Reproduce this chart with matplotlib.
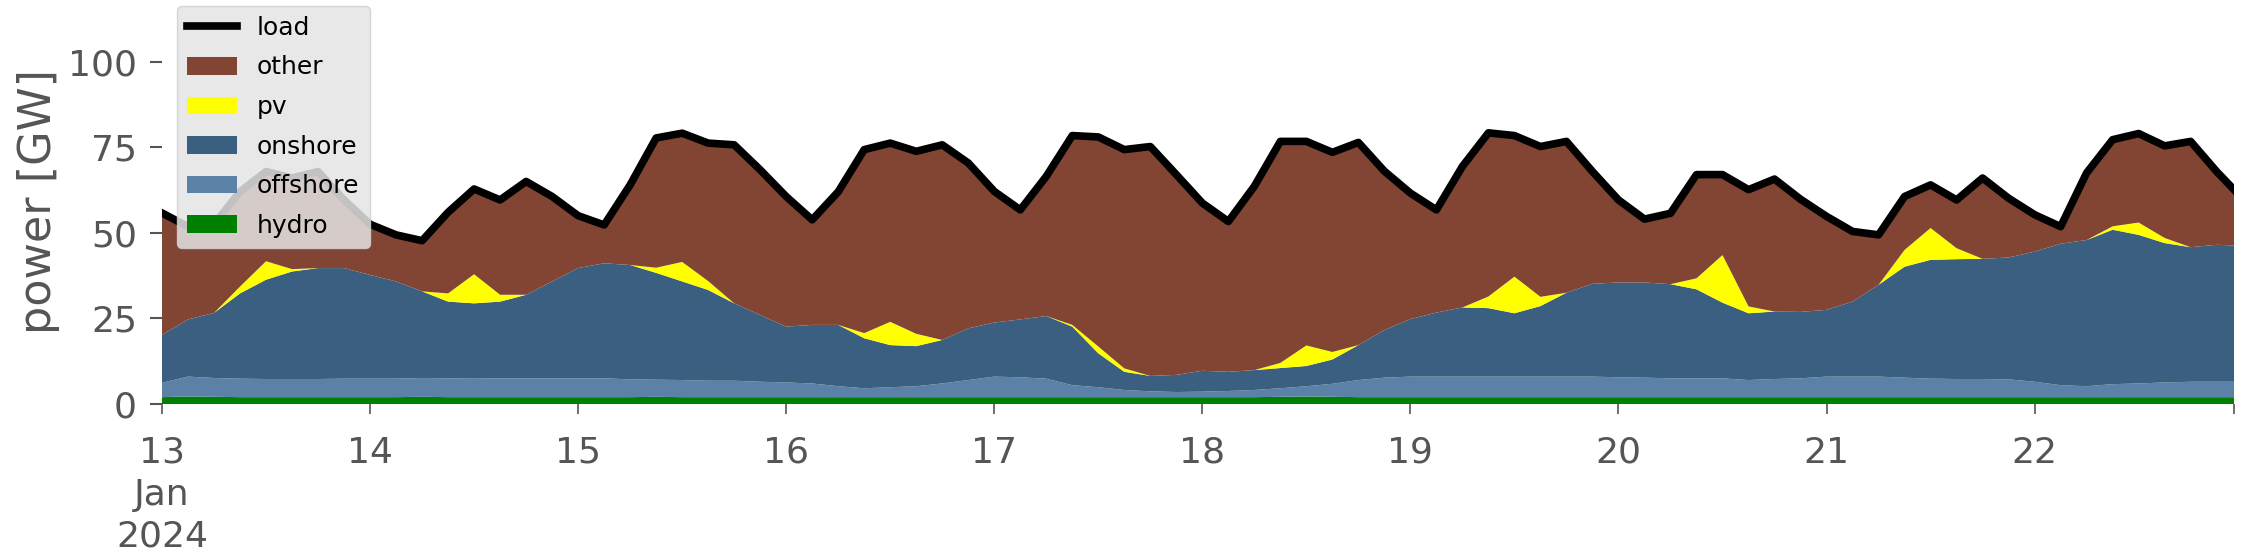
import matplotlib
matplotlib.use("Agg")
import matplotlib.pyplot as plt
import pandas as pd

WIDTH = 2241
HEIGHT = 556
DPI = 100

# readings every 3 hours from 2024-01-13 00:00, last one at 2024-01-22 23:00
HOURS = list(range(0, 240, 3)) + [239]

# GW, one row per day
LOAD = [
    55.8, 51.8, 52.5, 62.0, 67.9, 66.0, 67.9, 59.6,
    52.5, 49.4, 47.7, 56.0, 62.8, 59.6, 65.0, 60.6,
    55.0, 52.3, 64.0, 77.7, 79.1, 76.2, 75.7, 68.4,
    60.6, 53.8, 62.0, 74.3, 76.2, 73.8, 75.7, 70.4,
    62.1, 56.7, 66.5, 78.4, 78.0, 74.3, 75.2, 67.0,
    58.7, 53.3, 63.6, 76.7, 76.7, 73.5, 76.4, 68.0,
    61.6, 56.7, 69.4, 79.2, 78.4, 75.2, 76.7, 67.9,
    59.6, 54.0, 55.7, 67.0, 67.0, 62.6, 65.7, 59.8,
    54.8, 50.4, 49.4, 60.6, 64.0, 59.6, 66.0, 60.1,
    55.3, 51.8, 67.5, 77.2, 79.0, 75.4, 76.7, 67.9, 62.6,
]
HYDRO = [
    2.0, 2.2, 2.1, 2.0, 2.0, 2.0, 2.0, 2.0,
    2.0, 2.0, 2.1, 2.0, 2.0, 2.0, 2.0, 2.0,
    2.0, 2.0, 2.0, 2.1, 2.0, 2.0, 2.0, 2.0,
    2.0, 2.0, 2.0, 2.0, 2.0, 2.0, 2.0, 2.0,
    2.0, 2.0, 2.0, 2.0, 2.0, 2.0, 2.0, 2.0,
    2.0, 2.0, 2.0, 2.1, 2.2, 2.1, 2.0, 2.0,
    2.0, 2.0, 2.0, 2.0, 2.0, 2.0, 2.0, 2.0,
    2.0, 2.0, 2.0, 2.0, 2.0, 2.0, 2.0, 2.0,
    2.0, 2.0, 2.0, 2.0, 2.0, 2.0, 2.0, 2.0,
    2.0, 2.0, 2.0, 2.0, 2.0, 2.0, 2.0, 2.0, 2.0,
]
OFFSHORE = [
    4.2, 5.8, 5.5, 5.4, 5.3, 5.3, 5.3, 5.4,
    5.4, 5.4, 5.5, 5.5, 5.4, 5.5, 5.5, 5.5,
    5.5, 5.5, 5.2, 5.0, 5.0, 4.8, 4.8, 4.5,
    4.3, 4.0, 3.2, 2.6, 2.9, 3.2, 4.0, 5.0,
    6.0, 5.8, 5.4, 3.5, 2.9, 2.1, 1.7, 1.5,
    1.6, 1.8, 2.1, 2.5, 3.0, 3.8, 5.0, 5.7,
    6.0, 6.0, 6.0, 6.0, 6.0, 6.0, 6.0, 6.0,
    5.8, 5.7, 5.5, 5.5, 5.5, 5.0, 5.3, 5.5,
    6.0, 6.0, 6.0, 5.7, 5.4, 5.3, 5.3, 5.2,
    4.5, 3.5, 3.2, 3.8, 4.0, 4.3, 4.5, 4.5, 4.5,
]
ONSHORE = [
    14.0, 16.7, 19.0, 24.9, 29.0, 31.4, 32.4, 32.3,
    30.3, 28.4, 25.3, 22.4, 22.0, 22.4, 24.4, 28.3,
    32.2, 33.6, 33.4, 31.2, 28.8, 26.5, 22.6, 19.5,
    16.3, 17.1, 17.9, 14.6, 12.3, 11.7, 12.7, 15.1,
    15.8, 16.9, 18.3, 17.1, 9.9, 5.3, 4.5, 5.0,
    6.1, 5.6, 5.8, 5.9, 5.9, 7.1, 10.2, 13.9,
    16.8, 18.7, 20.2, 20.0, 18.5, 20.6, 24.5, 27.1,
    27.7, 27.8, 27.5, 26.0, 22.1, 19.5, 19.7, 19.4,
    19.5, 21.9, 26.8, 32.4, 34.7, 35.0, 35.1, 35.6,
    38.0, 41.3, 42.7, 45.1, 43.4, 40.7, 39.3, 40.0, 39.8,
]
PV = [
    0, 0, 0, 2.0, 5.4, 0.7, 0, 0,
    0, 0, 0, 2.4, 8.5, 2.0, 0, 0,
    0, 0, 0, 1.5, 5.7, 2.6, 0, 0,
    0, 0, 0, 1.5, 6.8, 3.6, 0, 0,
    0, 0, 0, 0.5, 2.0, 1.0, 0, 0,
    0, 0, 0, 1.5, 6.0, 2.2, 0, 0,
    0, 0, 0, 3.4, 10.7, 2.7, 0, 0,
    0, 0, 0, 3.2, 13.9, 2.0, 0, 0,
    0, 0, 0, 4.9, 9.3, 3.2, 0, 0,
    0, 0, 0, 1.0, 3.6, 1.5, 0, 0, 0,
]

COLORS = {
    "hydro": "#008000",
    "offshore": "#5b82a6",
    "onshore": "#3a5f80",
    "pv": "#ffff00",
    "other": "#824533",
}
TEXT = "#555555"

idx = pd.Timestamp("2024-01-13") + pd.to_timedelta(HOURS, unit="h")
df = pd.DataFrame(
    {"hydro": HYDRO, "offshore": OFFSHORE, "onshore": ONSHORE, "pv": PV, "load": LOAD},
    index=idx,
)
df["other"] = df["load"] - df[["hydro", "offshore", "onshore", "pv"]].sum(axis=1)

fig = plt.figure(figsize=(WIDTH / DPI, HEIGHT / DPI), dpi=DPI)
ax = fig.add_axes([162 / WIDTH, 1 - 404 / HEIGHT, 2072 / WIDTH, 404 / HEIGHT])

stack = ["hydro", "offshore", "onshore", "pv", "other"]
polys = ax.stackplot(
    df.index,
    *[df[c] for c in stack],
    colors=[COLORS[c] for c in stack],
    labels=stack,
    linewidth=0,
)
(line,) = ax.plot(df.index, df["load"], color="black", lw=5.5, label="load")

ax.set_xlim(df.index[0], df.index[-1])
ax.set_ylim(0, 118)
for s in ax.spines.values():
    s.set_visible(False)

ax.set_yticks([0, 25, 50, 75, 100])
ax.tick_params(axis="y", labelsize=26, colors=TEXT, length=9, width=1.5, pad=9)
ax.set_ylabel("power [GW]", fontsize=32, color=TEXT)
ax.yaxis.set_label_coords(-0.049, 0.5)

days = pd.date_range("2024-01-13", "2024-01-22", freq="D")
ax.set_xticks(list(days) + [df.index[-1]])
ax.set_xticklabels(["13\nJan\n2024"] + [str(d.day) for d in days[1:]] + [""])
ax.tick_params(axis="x", labelsize=26, colors=TEXT, length=7, width=1.2, pad=16)
for t in ax.get_xticklabels():
    t.set_linespacing(1.28)
ax.grid(False)

handles = [line] + polys[::-1]
leg = ax.legend(
    handles=handles,
    labels=["load"] + stack[::-1],
    loc="upper left",
    bbox_to_anchor=(177 / WIDTH, 1 - 6 / HEIGHT),
    bbox_transform=fig.transFigure,
    borderaxespad=0,
    fontsize=18,
    labelspacing=0.62,
    facecolor="#e5e5e5",
    edgecolor="#d0d0d0",
    framealpha=0.85,
    fancybox=True,
)

fig.savefig("out.png", dpi=DPI)
